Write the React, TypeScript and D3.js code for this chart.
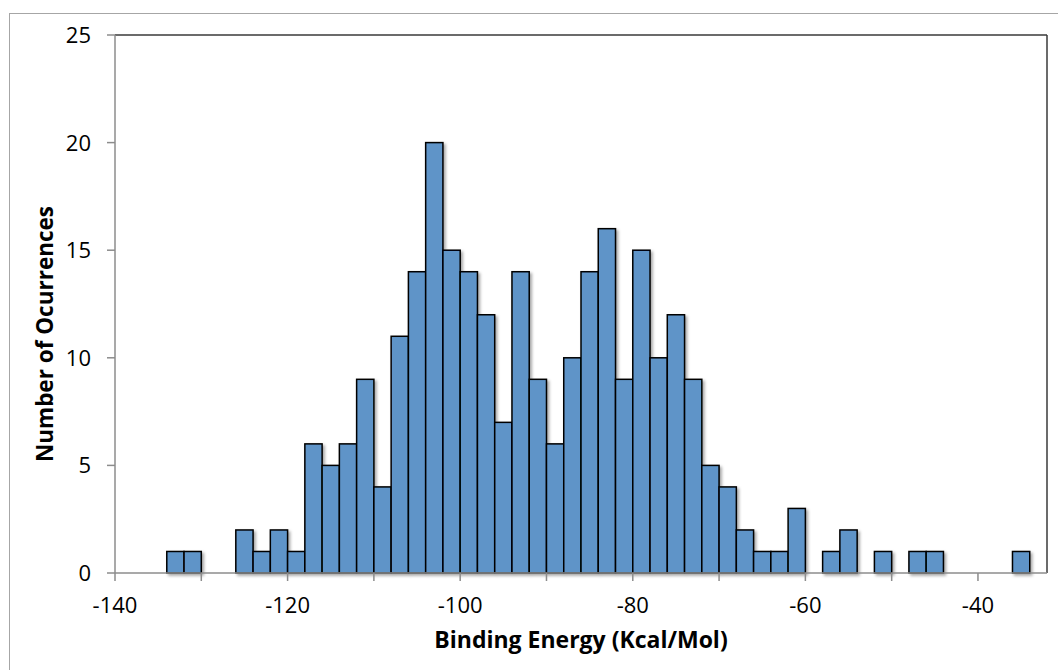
import React from "react";
import * as d3 from "d3";

const binStarts: number[] = [
  -134, -132, -130, -128, -126, -124, -122, -120, -118, -116, -114, -112, -110, -108, -106, -104, -102, -100, -98, -96,
  -94, -92, -90, -88, -86, -84, -82, -80, -78, -76, -74, -72, -70, -68, -66, -64, -62, -60, -58, -56,
  -54, -52, -50, -48, -46, -44, -42, -40, -38, -36,
];
const counts: number[] = [
  1, 1, 0, 0, 2, 1, 2, 1, 6, 5, 6, 9, 4, 11, 14, 20, 15, 14, 12, 7,
  14, 9, 6, 10, 14, 16, 9, 15, 10, 12, 9, 5, 4, 2, 1, 1, 3, 0, 1, 2,
  0, 1, 0, 1, 1, 0, 0, 0, 0, 1,
];
const binWidth = 2;
const xTickValues: number[] = [-140, -130, -120, -110, -100, -90, -80, -70, -60, -50, -40];
const xLabelValues: number[] = [-140, -120, -100, -80, -60, -40];
const yTickValues: number[] = [0, 5, 10, 15, 20, 25];
const xTitle = "Binding Energy (Kcal/Mol)";
const yTitle = "Number of Ocurrences";

const W = 1058;
const H = 670;
const left = 115;
const right = 1047;
const top = 35;
const bottom = 573;

export default function App() {
  const x = d3.scaleLinear().domain([-140, -32]).range([left, right]);
  const y = d3.scaleLinear().domain([0, 25]).range([bottom, top]);
  const font = "'Open Sans', sans-serif";
  const bars = binStarts.map((b, i) => ({ x0: b, x1: b + binWidth, c: counts[i] })).filter((d) => d.c > 0);

  return (
    <svg width={W} height={H} style={{ position: "absolute", left: 0, top: 0, background: "#fff" }}>
      <defs>
        <filter id="shadow" x="-20%" y="-20%" width="160%" height="140%">
          <feDropShadow dx="2" dy="2" stdDeviation="1.5" floodColor="#000" floodOpacity="0.35" />
        </filter>
      </defs>
      <rect x={9.5} y={13.5} width={1100} height={700} fill="#fff" stroke="#a6a6a6" strokeWidth={1} />
      <line x1={left} y1={top} x2={right} y2={top} stroke="#3a3a3a" strokeWidth={1.5} />
      <line x1={right} y1={top} x2={right} y2={bottom} stroke="#3a3a3a" strokeWidth={1.5} />
      <g filter="url(#shadow)">
        {bars.map((d, i) => (
          <rect
            key={i}
            x={x(d.x0)}
            y={y(d.c)}
            width={x(d.x1) - x(d.x0)}
            height={y(0) - y(d.c)}
            fill="#5f94c8"
            stroke="#000"
            strokeWidth={1.5}
          />
        ))}
      </g>
      <line x1={left} y1={top} x2={left} y2={bottom} stroke="#8c8c8c" strokeWidth={1.5} />
      <line x1={left} y1={bottom} x2={right} y2={bottom} stroke="#8c8c8c" strokeWidth={1.5} />
      {yTickValues.map((v) => (
        <g key={"y" + v}>
          <line x1={left - 8} x2={left} y1={y(v)} y2={y(v)} stroke="#8c8c8c" strokeWidth={1.5} />
          <text x={91} y={y(v)} dy="0.36em" textAnchor="end" fontFamily={font} fontSize={22} fill="#000">
            {v}
          </text>
        </g>
      ))}
      {xTickValues.map((v) => (
        <line key={"xt" + v} x1={x(v)} x2={x(v)} y1={bottom} y2={bottom + 8} stroke="#8c8c8c" strokeWidth={1.5} />
      ))}
      {xLabelValues.map((v) => (
        <text key={"xl" + v} x={x(v)} y={613} textAnchor="middle" fontFamily={font} fontSize={22} fill="#000">
          {v}
        </text>
      ))}
      <text x={(left + right) / 2} y={648} textAnchor="middle" fontFamily={font} fontWeight="bold" fontSize={23} fill="#000">
        {xTitle}
      </text>
      <text
        transform={`translate(53, 334) rotate(-90)`}
        textAnchor="middle"
        fontFamily={font}
        fontWeight="bold"
        fontSize={22.5}
        fill="#000"
      >
        {yTitle}
      </text>
    </svg>
  );
}
